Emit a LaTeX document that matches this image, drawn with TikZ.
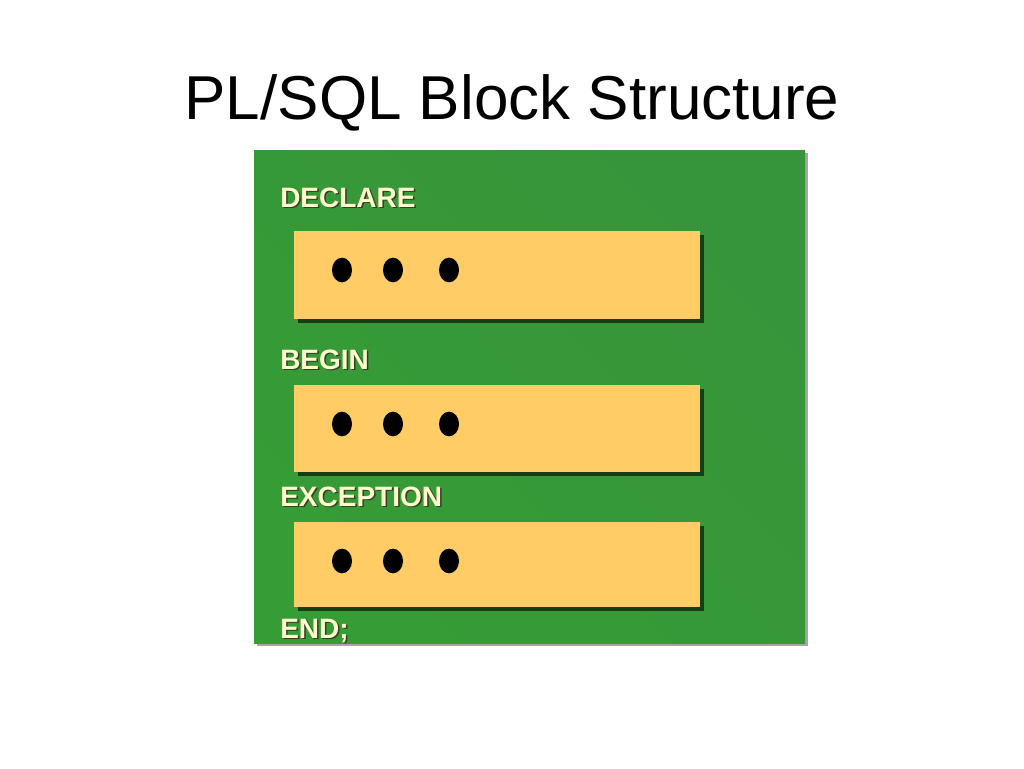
\documentclass[tikz,border=0pt]{standalone}
\usepackage{fontspec}
\setmainfont{Liberation Sans}
\usetikzlibrary{shapes.geometric}
\definecolor{greenA}{HTML}{36953A}
\definecolor{greenB}{HTML}{2C8630}
\definecolor{greenC}{HTML}{369C36}
\definecolor{boxyellow}{HTML}{FFCC66}
\definecolor{boxshadow}{HTML}{183C14}
\definecolor{cream}{HTML}{FFFFCC}
\definecolor{labelshadow}{HTML}{3A3A2A}
\tikzset{
  x=0.75pt, y=-0.75pt,
  codebox/.style={fill=boxyellow, draw=none},
  boxshade/.style={fill=boxshadow, draw=none},
  dotmark/.style={ellipse, fill=black, minimum width=15pt, minimum height=18.5pt, inner sep=0pt},
  kw/.style={anchor=base west, inner sep=0pt, font=\fontsize{21}{24}\selectfont\bfseries, text=cream},
  kwshadow/.style={anchor=base west, inner sep=0pt, font=\fontsize{21}{24}\selectfont\bfseries, text=labelshadow},
  titletext/.style={anchor=base, inner sep=0pt, font=\fontsize{46.5}{52}\selectfont}
}
\begin{document}
\begin{tikzpicture}
\useasboundingbox (0,0) rectangle (1024,768);
\fill[white] (0,0) rectangle (1024,768);
% title
\node[titletext] (title) at (512,119) {PL/SQL Block Structure};
% green panel with shadow
\fill[gray!70] (257,153) rectangle (808,646);
\shade[left color=greenA, middle color=greenB, right color=greenC, shading angle=-45] (254,150) rectangle (805,643);
% yellow code boxes with shadows
\foreach \t/\b/\n in {231/319/a, 385/472/b, 522/607/c}{
  \fill[boxshade] (298,\t+4) rectangle (704,\b+4);
  \fill[codebox] (294,\t) rectangle (700,\b);
}
% dots
\foreach \cy/\n in {270/a, 424/b, 561/c}{
  \node[dotmark] (d1\n) at (342,\cy) {};
  \node[dotmark] (d2\n) at (393,\cy) {};
  \node[dotmark] (d3\n) at (449,\cy) {};
}
% keywords with shadow
\foreach \yy/\txt/\n in {207/DECLARE/k1, 369/BEGIN/k2, 506/EXCEPTION/k3, 638/END;/k4}{
  \node[kwshadow] (\n s) at (281.5,\yy+1.5) {\txt};
  \node[kw] (\n) at (280,\yy) {\txt};
}
\end{tikzpicture}
\end{document}
